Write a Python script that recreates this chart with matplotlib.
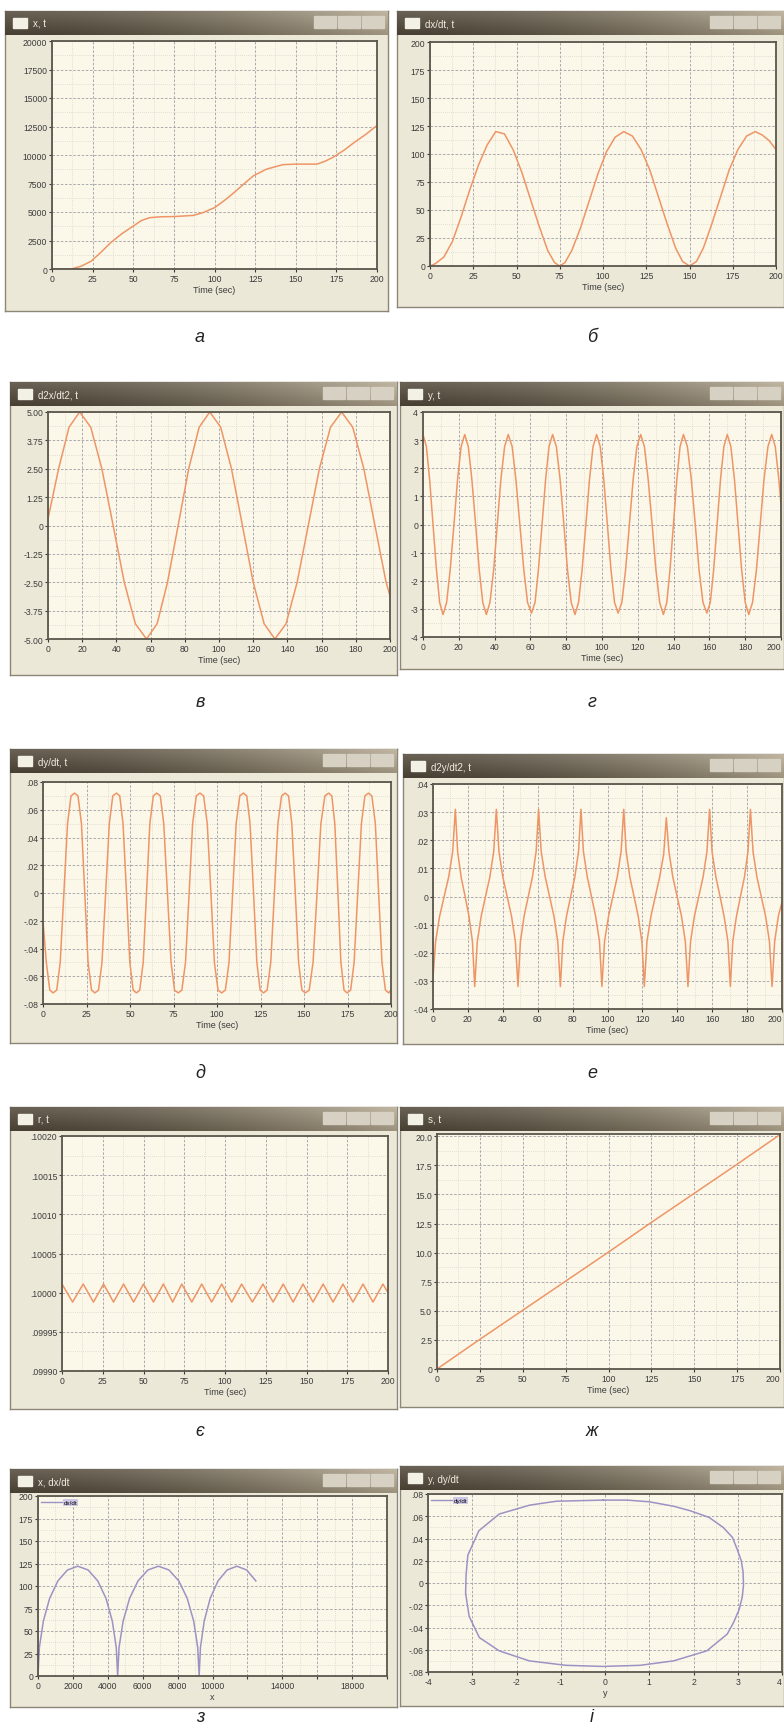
import numpy as np
import matplotlib.pyplot as plt
from matplotlib.patches import Rectangle
from matplotlib.lines import Line2D
from matplotlib.ticker import AutoMinorLocator

plt.rcParams['font.family'] = ['Liberation Sans', 'DejaVu Sans']

W, H = 784, 1731

# ---- values ----
# а: x, t
a_t = [0, 12, 18, 24, 30, 36, 43, 50, 55, 60, 67, 75, 87, 93, 100, 106, 112,
       118, 124, 132, 142, 150, 163, 168, 173, 180, 186, 193, 200]
a_x = [0, 0, 250, 676, 1450, 2294, 3100, 3765, 4250, 4500, 4580, 4600, 4700,
       4950, 5380, 6000, 6700, 7450, 8180, 8760, 9150, 9200, 9200, 9450, 9800,
       10450, 11100, 11800, 12590]

# б: dx/dt, t
b_t = [0, 3, 8, 13, 18, 23, 28, 33, 38, 43, 48, 53, 58, 63, 68, 72, 75, 78, 82,
       87, 92, 97, 102, 107, 112, 117, 122, 127, 132, 137, 142, 146, 150, 154,
       158, 163, 168, 173, 178, 183, 188, 192, 196, 200]
b_v = [0, 2, 8, 22, 44, 68, 90, 108, 120, 118, 104, 84, 60, 36, 14, 3, 0, 3, 14,
       34, 58, 82, 102, 115, 120, 116, 104, 86, 62, 38, 16, 4, 0, 4, 16, 38, 62,
       86, 104, 116, 120, 117, 112, 104]

# в: d2x/dt2, t
c_t = [0, 6.2, 12.3, 18.5, 25.0, 31.5, 38.1, 44.6, 51.1, 57.6, 63.8, 69.9,
       76.1, 82.3, 88.4, 94.6, 101.0, 107.3, 113.7, 120.0, 126.4, 132.7, 139.2,
       145.7, 152.2, 158.7, 165.2, 171.7, 178.2, 184.7, 191.2, 197.7, 200]
c_a = [0.3, 2.5, 4.33, 5.0, 4.33, 2.5, 0, -2.5, -4.33, -5.0, -4.33, -2.5, 0,
       2.5, 4.33, 5.0, 4.33, 2.5, 0, -2.5, -4.33, -5.0, -4.33, -2.5, 0, 2.5,
       4.33, 5.0, 4.33, 2.5, 0, -2.5, -3.1]

# г: y, t
d_t = [0, 1.9, 3.7, 5.6, 7.5, 9.3, 11.2,
       13.2, 15.2, 17.3, 19.3, 21.3, 23.3,
       25.3, 27.3, 29.4, 31.4, 33.4, 35.4,
       37.4, 39.5, 41.5, 43.5, 45.6, 47.6,
       49.8, 51.9, 54.1, 56.3, 58.4, 60.6,
       62.6, 64.5, 66.5, 68.5, 70.4, 72.4,
       74.5, 76.6, 78.7, 80.7, 82.8, 84.9,
       86.9, 88.9, 91.0, 93.0, 95.0, 97.0,
       99.0, 101.0, 103.0, 105.0, 107.0, 109.0,
       111.1, 113.2, 115.3, 117.4, 119.5, 121.6,
       123.7, 125.8, 128.0, 130.1, 132.2, 134.3,
       136.2, 138.0, 139.9, 141.8, 143.6, 145.5,
       147.7, 149.9, 152.1, 154.2, 156.4, 158.6,
       160.5, 162.4, 164.3, 166.2, 168.1, 170.0,
       172.0, 174.0, 176.0, 178.0, 180.0, 182.0,
       184.1, 186.3, 188.4, 190.5, 192.7, 194.8,
       196.8, 198.8, 200.0]
d_y = [3.2, 2.77, 1.6, 0, -1.6, -2.77, -3.2,
       -2.77, -1.6, 0, 1.6, 2.77, 3.2,
       2.77, 1.6, 0, -1.6, -2.77, -3.2,
       -2.77, -1.6, 0, 1.6, 2.77, 3.2,
       2.77, 1.6, 0, -1.6, -2.77, -3.15,
       -2.77, -1.6, 0, 1.6, 2.77, 3.2,
       2.77, 1.6, 0, -1.6, -2.77, -3.2,
       -2.77, -1.6, 0, 1.6, 2.77, 3.2,
       2.77, 1.6, 0, -1.6, -2.77, -3.15,
       -2.77, -1.6, 0, 1.6, 2.77, 3.2,
       2.77, 1.6, 0, -1.6, -2.77, -3.2,
       -2.77, -1.6, 0, 1.6, 2.77, 3.2,
       2.77, 1.6, 0, -1.6, -2.77, -3.15,
       -2.77, -1.6, 0, 1.6, 2.77, 3.2,
       2.77, 1.6, 0, -1.6, -2.77, -3.2,
       -2.77, -1.6, 0, 1.6, 2.77, 3.2,
       2.77, 1.6, 0.7]

# д: dy/dt, t
e_t = [0, 1.9, 3.9, 5.8,
       7.9, 9.9, 12.0, 14.1, 16.1, 18.2,
       20.1, 22.1, 24.0, 25.9, 27.9, 29.8,
       31.9, 33.9, 36.0, 38.1, 40.1, 42.2,
       44.1, 46.0, 48.0, 49.9, 51.8, 53.7,
       55.6, 57.6, 59.5, 61.4, 63.4, 65.3,
       67.4, 69.4, 71.5, 73.6, 75.6, 77.7,
       79.8, 81.9, 84.0, 86.0, 88.1, 90.2,
       92.3, 94.4, 96.5, 98.5, 100.6, 102.7,
       104.8, 106.9, 109.0, 111.0, 113.1, 115.2,
       117.1, 119.0, 121.0, 122.9, 124.8, 126.7,
       128.8, 130.9, 133.0, 135.0, 137.1, 139.2,
       141.1, 143.0, 145.0, 146.9, 148.8, 150.7,
       153.0, 155.2, 157.5, 159.7, 162.0, 164.2,
       166.0, 167.7, 169.5, 171.2, 173.0, 174.7,
       176.8, 178.8, 180.9, 183.0, 185.0, 187.1,
       189.0, 191.0, 192.9, 194.8, 196.8, 198.7,
       200.0]
e_v = [-0.02, -0.05, -0.07, -0.072,
       -0.07, -0.05, 0, 0.05, 0.07, 0.072,
       0.07, 0.05, 0, -0.05, -0.07, -0.072,
       -0.07, -0.05, 0, 0.05, 0.07, 0.072,
       0.07, 0.05, 0, -0.05, -0.07, -0.072,
       -0.07, -0.05, 0, 0.05, 0.07, 0.072,
       0.07, 0.05, 0, -0.05, -0.07, -0.072,
       -0.07, -0.05, 0, 0.05, 0.07, 0.072,
       0.07, 0.05, 0, -0.05, -0.07, -0.072,
       -0.07, -0.05, 0, 0.05, 0.07, 0.072,
       0.07, 0.05, 0, -0.05, -0.07, -0.072,
       -0.07, -0.05, 0, 0.05, 0.07, 0.072,
       0.07, 0.05, 0, -0.05, -0.07, -0.072,
       -0.07, -0.05, 0, 0.05, 0.07, 0.072,
       0.07, 0.05, 0, -0.05, -0.07, -0.072,
       -0.07, -0.05, 0, 0.05, 0.07, 0.072,
       0.07, 0.05, 0, -0.05, -0.07, -0.072,
       -0.07]

# е: d2y/dt2, t
f_t = [0, 1.5, 3.8, 6.4, 9.0, 11.3, 12.8,
       14.1, 16.1, 18.4, 20.6, 22.6, 23.9,
       25.4, 27.6, 30.1, 32.6, 34.8, 36.3,
       37.8, 40.0, 42.5, 45.0, 47.2, 48.7,
       50.1, 52.2, 54.6, 57.0, 59.1, 60.5,
       62.0, 64.3, 66.8, 69.3, 71.5, 73.0,
       74.4, 76.5, 78.9, 81.3, 83.4, 84.8,
       86.2, 88.4, 90.8, 93.2, 95.4, 96.8,
       98.3, 100.6, 103.1, 105.6, 107.8, 109.3,
       110.7, 112.8, 115.2, 117.6, 119.7, 121.1,
       122.6, 124.9, 127.4, 129.9, 132.2, 133.7,
       135.2, 137.4, 139.9, 142.4, 144.6, 146.1,
       147.6, 149.8, 152.3, 154.8, 157.0, 158.5,
       159.9, 162.1, 164.5, 166.8, 169.0, 170.4,
       171.8, 173.9, 176.2, 178.5, 180.5, 181.9,
       183.4, 185.6, 188.1, 190.6, 192.8, 194.3,
       195.8, 197.9, 200.0]
f_a = [-0.029, -0.016, -0.007, 0, 0.007, 0.016, 0.031,
       0.016, 0.007, 0, -0.007, -0.016, -0.032,
       -0.016, -0.007, 0, 0.007, 0.016, 0.031,
       0.016, 0.007, 0, -0.007, -0.016, -0.032,
       -0.016, -0.007, 0, 0.007, 0.016, 0.031,
       0.016, 0.007, 0, -0.007, -0.016, -0.032,
       -0.016, -0.007, 0, 0.007, 0.016, 0.031,
       0.016, 0.007, 0, -0.007, -0.016, -0.032,
       -0.016, -0.007, 0, 0.007, 0.016, 0.031,
       0.016, 0.007, 0, -0.007, -0.016, -0.032,
       -0.016, -0.007, 0, 0.007, 0.015, 0.028,
       0.016, 0.007, 0, -0.007, -0.016, -0.032,
       -0.016, -0.007, 0, 0.007, 0.016, 0.031,
       0.016, 0.007, 0, -0.007, -0.016, -0.032,
       -0.016, -0.007, 0, 0.007, 0.016, 0.031,
       0.016, 0.007, 0, -0.007, -0.016, -0.032,
       -0.016, -0.007, -0.002]

# є: r, t
g_t = [0, 6.5, 13.0, 19.3, 25.5, 31.6, 37.8, 43.9, 50.0, 56.1, 62.2, 67.9,
       73.5, 79.6, 85.7, 91.8, 98.0, 104.1, 110.2, 116.8, 123.3, 129.5, 135.7,
       141.8, 147.9, 154.0, 160.2, 166.3, 172.4, 178.5, 184.7, 190.8, 196.9,
       200.0]
g_r = [0.100011, 0.099988, 0.100011, 0.099988, 0.100011, 0.099988, 0.100011,
       0.099988, 0.100011, 0.099988, 0.100011, 0.099988, 0.100011, 0.099988,
       0.100011, 0.099988, 0.100011, 0.099988, 0.100011, 0.099988, 0.100011,
       0.099988, 0.100011, 0.099988, 0.100011, 0.099988, 0.100011, 0.099988,
       0.100011, 0.099988, 0.100011, 0.099988, 0.100011, 0.100000]

# ж: s, t
h_t = [0, 25, 50, 75, 100, 125, 150, 175, 200]
h_s = [0, 2.55, 5.05, 7.55, 10.05, 12.6, 15.1, 17.6, 20.15]

# з: x vs dx/dt
i_x = [0, 78, 306, 668, 1141, 1691, 2282, 2873, 3423, 3896, 4258, 4486, 4565,
       4644, 4878, 5249, 5733, 6296, 6900, 7504, 8068, 8551, 8922, 9155, 9235,
       9309, 9525, 9869, 10318, 10840, 11400, 11960, 12483]
i_v = [0, 31.6, 61, 86.3, 105.7, 117.8, 122, 117.8, 105.7, 86.3, 61, 31.6, 0,
       31.6, 61, 86.3, 105.7, 117.8, 122, 117.8, 105.7, 86.3, 61, 31.6, 0,
       31.6, 61, 86.3, 105.7, 117.8, 122, 117.8, 105.7]

# і: y vs dy/dt
j_y = [-0.05, 0.5, 1.0, 1.55, 1.92, 2.35, 2.67, 2.88, 2.98, 3.08, 3.12, 3.13,
       3.1, 3.03, 2.9, 2.76, 2.3, 1.55, 0.79, -0.05, -0.88, -1.71, -2.39,
       -2.84, -3.07, -3.12, -3.15, -3.14, -3.1, -2.85, -2.39, -1.7, -1.1, -0.05]
j_v = [0.0745, 0.0745, 0.073, 0.069, 0.065, 0.059, 0.050, 0.041, 0.031,
       0.020, 0.010, -0.002, -0.013, -0.024, -0.036, -0.046, -0.061, -0.070,
       -0.074, -0.075, -0.074, -0.070, -0.061, -0.049, -0.030, -0.017, -0.009,
       0.007, 0.025, 0.047, 0.062, 0.070, 0.0735, 0.0745]

# tick values and labels
t25 = [0, 25, 50, 75, 100, 125, 150, 175, 200]
t20 = [0, 20, 40, 60, 80, 100, 120, 140, 160, 180, 200]
a_yt = [0, 2500, 5000, 7500, 10000, 12500, 15000, 17500, 20000]
b_yt = [0, 25, 50, 75, 100, 125, 150, 175, 200]
c_yt = [-5, -3.75, -2.5, -1.25, 0, 1.25, 2.5, 3.75, 5]
c_yl = ['-5.00', '-3.75', '-2.50', '-1.25', '0', '1.25', '2.50', '3.75', '5.00']
d_yt = [-4, -3, -2, -1, 0, 1, 2, 3, 4]
e_yt = [-0.08, -0.06, -0.04, -0.02, 0, 0.02, 0.04, 0.06, 0.08]
e_yl = ['-.08', '-.06', '-.04', '-.02', '0', '.02', '.04', '.06', '.08']
f_yt = [-0.04, -0.03, -0.02, -0.01, 0, 0.01, 0.02, 0.03, 0.04]
f_yl = ['-.04', '-.03', '-.02', '-.01', '0', '.01', '.02', '.03', '.04']
g_yt = [0.09990, 0.09995, 0.10000, 0.10005, 0.10010, 0.10015, 0.10020]
g_yl = ['.09990', '.09995', '.10000', '.10005', '.10010', '.10015', '.10020']
h_yt = [0, 2.5, 5, 7.5, 10, 12.5, 15, 17.5, 20]
h_yl = ['0', '2.5', '5.0', '7.5', '10.0', '12.5', '15.0', '17.5', '20.0']
i_xt = [0, 2000, 4000, 6000, 8000, 10000, 12000, 14000, 16000, 18000, 20000]
i_xl = ['0', '2000', '4000', '6000', '8000', '10000', '', '14000', '', '18000', '']
j_xt = [-4, -3, -2, -1, 0, 1, 2, 3, 4]

ORANGE = '#ee9566'
PURPLE = '#9d92c4'

fig = plt.figure(figsize=(W / 100, H / 100), dpi=100)


def frac(x0, y0, x1, y1):
    return [x0 / W, 1 - y1 / H, (x1 - x0) / W, (y1 - y0) / H]


# title bar shading: dark on the left, lighter to the right and at the top
ramp = np.linspace(0, 1, 200) ** 1.6
bar = np.empty((12, 200, 3))
for i in range(12):
    k = 0.13 * (1 - i / 11)
    for c, (lo, hi) in enumerate([(0.28, 0.62), (0.25, 0.58), (0.20, 0.50)]):
        bar[i, :, c] = np.clip(lo + (hi - lo) * ramp + k, 0, 1)


def window(win, plot, title):
    x0, y0, x1, y1 = win
    w = x1 - x0
    body = fig.add_axes(frac(*win))
    body.set_facecolor('#ece8d8')
    body.set_xticks([])
    body.set_yticks([])
    for s in body.spines.values():
        s.set_color('#8c8676')
        s.set_linewidth(1.0)

    tb = fig.add_axes(frac(x0, y0, x1, y0 + 24))
    tb.imshow(bar, aspect='auto', extent=(0, 1, 0, 1))
    tb.set_xlim(0, 1)
    tb.set_ylim(0, 1)
    tb.axis('off')
    tb.add_patch(Rectangle((8 / w, 0.3), 14 / w, 0.42, color='#f3f0e6'))
    tb.text(28 / w, 0.46, title, color='#f1ede0', fontsize=7, va='center')
    for j in range(3):
        tb.add_patch(Rectangle((1 - (74 - 24 * j) / w, 0.28), 22 / w, 0.5,
                               color='#d6d1c3'))

    ax = fig.add_axes(frac(*plot))
    ax.set_facecolor('#fbf8ea')
    for s in ax.spines.values():
        s.set_color('#5a564c')
        s.set_linewidth(1.3)
    return ax


def style(ax, xt, yt, xl=None, yl=None, xlabel='Time (sec)', edge=False):
    ax.set_xlim(xt[0], xt[-1])
    ax.set_xticks(xt, labels=xl if xl is not None else [str(v) for v in xt])
    ax.set_yticks(yt, labels=yl if yl is not None else [str(v) for v in yt])
    ax.xaxis.set_minor_locator(AutoMinorLocator(2))
    ax.yaxis.set_minor_locator(AutoMinorLocator(2))
    ax.grid(which='major', color='#9d9ca4', ls=(0, (3, 2)), lw=0.6)
    ax.grid(which='minor', color='#cbc8bd', ls=(0, (1, 2)), lw=0.5)
    ax.set_axisbelow(True)
    ax.tick_params(which='major', labelsize=6.2, colors='#3a3a3a', length=2,
                   pad=1.5)
    ax.tick_params(which='minor', length=0)
    ax.set_xlabel(xlabel, fontsize=6.5, color='#3a3a3a', labelpad=1.5)
    if edge:
        # the window touches the page edge: keep the last label inside
        ax.get_xticklabels()[-1].set_ha('right')


def legend(ax, text):
    leg = ax.legend([Line2D([], [], color=PURPLE, lw=1)], [text],
                    loc='upper left', frameon=False, fontsize=4.5,
                    handlelength=3.5, handletextpad=0, borderaxespad=0.15)
    leg.get_texts()[0].set_bbox(dict(facecolor='#cfc7e6', edgecolor='none',
                                     pad=0.6))


# а
ax = window((5, 12, 388, 312), (52, 42, 377, 270), 'x, t')
ax.plot(a_t, a_x, color=ORANGE, lw=1.1)
style(ax, t25, a_yt)
ax.set_ylim(0, 20000)

# б
ax = window((397, 12, 784, 308), (430, 43, 776, 267), 'dx/dt, t')
ax.plot(b_t, b_v, color=ORANGE, lw=1.1)
style(ax, t25, b_yt)
ax.set_ylim(0, 200)

# в
ax = window((10, 383, 397, 676), (48, 413, 390, 640), 'd2x/dt2, t')
ax.plot(c_t, c_a, color=ORANGE, lw=1.1)
style(ax, t20, c_yt, yl=c_yl)
ax.set_ylim(-5, 5)

# г
ax = window((400, 383, 784, 670), (423, 413, 781, 638), 'y, t')
ax.plot(d_t, d_y, color=ORANGE, lw=1.1)
style(ax, t20, d_yt, edge=True)
ax.set_ylim(-4, 4)

# д
ax = window((10, 750, 397, 1044), (43, 783, 391, 1005), 'dy/dt, t')
ax.plot(e_t, e_v, color=ORANGE, lw=1.1)
style(ax, t25, e_yt, yl=e_yl)
ax.set_ylim(-0.08, 0.08)

# е
ax = window((403, 755, 784, 1045), (433, 785, 782, 1010), 'd2y/dt2, t')
ax.plot(f_t, f_a, color=ORANGE, lw=1.1)
style(ax, t20, f_yt, yl=f_yl, edge=True)
ax.set_ylim(-0.04, 0.04)

# є
ax = window((10, 1108, 397, 1410), (62, 1137, 388, 1372), 'r, t')
ax.plot(g_t, g_r, color=ORANGE, lw=1.1)
style(ax, t25, g_yt, yl=g_yl)
ax.set_ylim(0.09990, 0.10020)

# ж
ax = window((400, 1108, 784, 1408), (437, 1135, 780, 1370), 's, t')
ax.plot(h_t, h_s, color=ORANGE, lw=1.1)
style(ax, t25, h_yt, yl=h_yl, edge=True)
ax.set_ylim(0, 20.2)

# з
ax = window((10, 1470, 397, 1708), (38, 1497, 387, 1677), 'x, dx/dt')
ax.plot(i_x, i_v, color=PURPLE, lw=1.1)
style(ax, i_xt, b_yt, xl=i_xl, xlabel='x')
ax.set_ylim(0, 200)
legend(ax, 'dx/dt')

# і
ax = window((400, 1467, 784, 1707), (428, 1495, 782, 1673), 'y, dy/dt')
ax.plot(j_y, j_v, color=PURPLE, lw=1.1)
style(ax, j_xt, e_yt, yl=e_yl, xlabel='y', edge=True)
ax.set_ylim(-0.08, 0.08)
legend(ax, 'dy/dt')

# captions under the windows
captions = ['а', 'б', 'в', 'г', 'д', 'е', 'є', 'ж', 'з', 'і']
cap_y = [338, 338, 703, 703, 1073, 1073, 1432, 1432, 1718, 1718]
for k, (s, y) in enumerate(zip(captions, cap_y)):
    x = 200 if k % 2 == 0 else 592
    fig.text(x / W, 1 - y / H, s, fontsize=13, style='italic',
             ha='center', va='center', color='#222222')

fig.savefig('out.png', dpi=100)
